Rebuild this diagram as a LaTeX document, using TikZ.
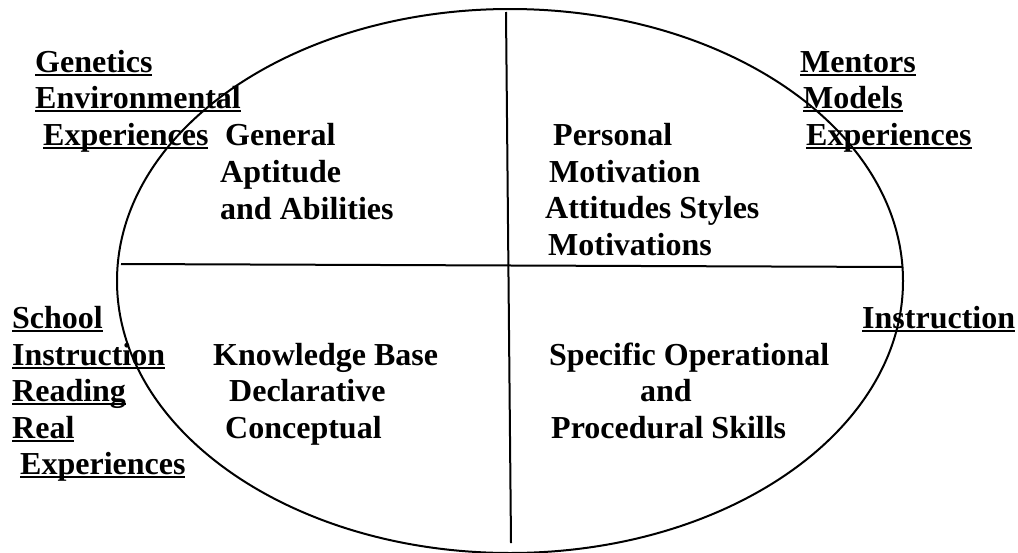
\documentclass[tikz,border=0pt]{standalone}
\usepackage{fontspec}
\setmainfont{Liberation Serif}
% underlined word: a fixed-offset rule under the baseline, like a word processor draws it
\newcommand\ulword[1]{\setbox0\hbox{#1}\rlap{\rule[-4pt]{\wd0}{2pt}}\box0}
\begin{document}
\begin{tikzpicture}[x=1pt,y=-1pt,
  lbl/.style={anchor=base west,inner sep=0pt,font=\fontsize{32}{36}\selectfont\bfseries},
  frame/.style={line width=2pt}]
\useasboundingbox (0,0) rectangle (1018,552);
% quadrant frame
\draw[frame] (510,281) ellipse [x radius=393, y radius=272];
\draw[frame] (506,12) -- (511,543);
\draw[frame] (121,264) -- (903,267);
% outer influences, top left
\node[lbl] (gen)  at (35,72)  {\ulword{Genetics}};
\node[lbl] (env)  at (35,108) {\ulword{Environmental}};
\node[lbl] (exa)  at (43,145) {\ulword{Experiences}};
% outer influences, top right
\node[lbl] (men)  at (800,72)  {\ulword{Mentors}};
\node[lbl] (mod)  at (803,108) {\ulword{Models}};
\node[lbl] (exb)  at (806,145) {\ulword{Experiences}};
% outer influences, bottom left
\node[lbl] (sch)  at (12,328) {\ulword{School}};
\node[lbl] (ins)  at (12,365) {\ulword{Instruction}};
\node[lbl] (rea)  at (12,401) {\ulword{Reading}};
\node[lbl] (rel)  at (12,438) {\ulword{Real}};
\node[lbl] (exc)  at (20,474) {\ulword{Experiences}};
% outer influences, bottom right
\node[lbl] (inr)  at (862,328) {\ulword{Instruction}};
% quadrant I
\node[lbl] (ga1) at (225,145) {General};
\node[lbl] (ga2) at (220,182) {Aptitude};
\node[lbl] (ga3) at (220,219) {and Abilities};
% quadrant II
\node[lbl] (pm1) at (553,145) {Personal};
\node[lbl] (pm2) at (549,182) {Motivation};
\node[lbl] (pm3) at (545,218) {Attitudes Styles};
\node[lbl] (pm4) at (548,255) {Motivations};
% quadrant III
\node[lbl] (kb1) at (213,365) {Knowledge Base};
\node[lbl] (kb2) at (229,401) {Declarative};
\node[lbl] (kb3) at (225,438) {Conceptual};
% quadrant IV
\node[lbl] (sp1) at (549,365) {Specific Operational};
\node[lbl] (sp2) at (640,401) {and};
\node[lbl] (sp3) at (551,438) {Procedural Skills};
\end{tikzpicture}
\end{document}
